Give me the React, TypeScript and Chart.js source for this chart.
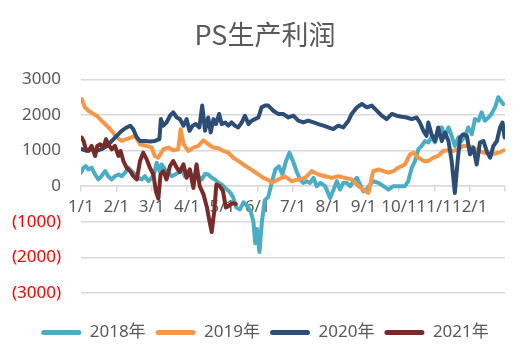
import React, { useEffect, useRef } from "react";
import { Chart, registerables } from "chart.js";

Chart.register(...registerables);

const TITLE = "PS生产利润";
const MONTH_LABELS = ["1/1", "2/1", "3/1", "4/1", "5/1", "6/1", "7/1", "8/1", "9/1", "10/1", "11/1", "12/1"];
const SERIES_NAMES = ["2018年", "2019年", "2020年", "2021年"];
const SERIES_COLORS = ["#4BACC6", "#F79646", "#2C4D75", "#772C2A"];

// x positions in months since 1/1, values in yuan/ton
const x2018 = [0.0, 0.07, 0.14, 0.21, 0.3, 0.4, 0.49, 0.58, 0.68, 0.77, 0.87, 0.96, 1.06, 1.15, 1.25, 1.34, 1.43, 1.53, 1.62, 1.72, 1.81, 1.91, 2.0, 2.08, 2.14, 2.22, 2.28, 2.38, 2.47, 2.57, 2.66, 2.75, 2.85, 2.94, 3.04, 3.13, 3.23, 3.32, 3.42, 3.51, 3.6, 3.7, 3.79, 3.89, 3.98, 4.08, 4.2, 4.3, 4.4, 4.5, 4.6, 4.7, 4.8, 4.88, 4.93, 4.98, 5.05, 5.12, 5.2, 5.3, 5.4, 5.5, 5.6, 5.7, 5.8, 5.9, 6.0, 6.1, 6.2, 6.29, 6.39, 6.48, 6.58, 6.67, 6.77, 6.91, 7.05, 7.15, 7.24, 7.33, 7.42, 7.52, 7.62, 7.71, 7.81, 7.9, 7.99, 8.08, 8.18, 8.27, 8.42, 8.56, 8.7, 8.84, 9.0, 9.17, 9.26, 9.36, 9.45, 9.55, 9.64, 9.74, 9.83, 9.92, 10.02, 10.11, 10.21, 10.3, 10.4, 10.49, 10.58, 10.68, 10.77, 10.87, 10.96, 11.06, 11.15, 11.25, 11.34, 11.43, 11.53, 11.62, 11.72, 11.81, 11.91, 11.95];
const v2018 = [380, 520, 565, 470, 520, 330, 190, 280, 425, 280, 190, 280, 330, 280, 380, 520, 425, 330, 235, 190, 280, 140, 235, 380, 660, 425, 610, 470, 380, 280, 330, 380, 520, 280, 425, 330, 235, 280, 190, 340, 330, 240, 190, 94, 50, -50, -150, -300, -600, -650, -450, -550, -700, -1000, -1600, -1200, -1850, -1000, -400, -300, 100, 470, 560, 330, 700, 940, 700, 420, 190, 94, 140, 94, 236, 0, 94, 0, -330, -94, 140, -94, 94, 94, 0, 140, 236, 47, -140, -94, 47, 140, 94, 0, -94, 0, 0, 0, 140, 520, 700, 1040, 1130, 1270, 1230, 1370, 1230, 1510, 1650, 1370, 1650, 1415, 1130, 1370, 1270, 1415, 1650, 1460, 1890, 1840, 2075, 1840, 1930, 2030, 2220, 2500, 2360, 2310];

const x2019 = [0.02, 0.11, 0.21, 0.35, 0.44, 0.58, 0.73, 0.87, 1.01, 1.15, 1.29, 1.43, 1.53, 1.67, 1.86, 2.0, 2.09, 2.19, 2.33, 2.47, 2.61, 2.75, 2.82, 2.9, 3.04, 3.18, 3.32, 3.46, 3.6, 3.75, 3.89, 4.03, 4.17, 4.31, 4.45, 4.59, 4.74, 4.88, 5.02, 5.16, 5.3, 5.4, 5.58, 5.77, 5.96, 6.15, 6.34, 6.53, 6.72, 6.91, 7.09, 7.28, 7.47, 7.66, 7.85, 7.99, 8.13, 8.27, 8.42, 8.56, 8.7, 8.84, 8.98, 9.17, 9.31, 9.41, 9.55, 9.69, 9.83, 9.97, 10.11, 10.25, 10.4, 10.54, 10.68, 10.82, 10.96, 11.1, 11.25, 11.43, 11.63, 11.81, 11.98];
const v2019 = [2450, 2215, 2120, 2030, 1980, 1840, 1700, 1555, 1370, 1270, 1320, 1370, 1415, 1180, 1130, 1085, 850, 800, 1040, 1085, 1010, 1040, 1600, 1180, 990, 1085, 1130, 1290, 1180, 1085, 1065, 990, 940, 800, 710, 610, 520, 425, 330, 235, 180, 95, 190, 280, 140, 190, 235, 425, 330, 280, 235, 280, 235, 190, 0, -95, -190, 425, 470, 425, 380, 425, 520, 610, 895, 940, 800, 710, 710, 800, 850, 990, 1010, 990, 1040, 1130, 1130, 1085, 990, 940, 895, 940, 1010];

const x2020 = [0.02, 0.16, 0.3, 0.44, 0.58, 0.73, 0.87, 1.01, 1.15, 1.29, 1.39, 1.48, 1.58, 1.67, 1.81, 1.95, 2.09, 2.22, 2.26, 2.33, 2.42, 2.52, 2.61, 2.71, 2.8, 2.9, 2.99, 3.07, 3.16, 3.25, 3.35, 3.43, 3.51, 3.6, 3.67, 3.75, 3.82, 3.91, 3.98, 4.08, 4.17, 4.26, 4.36, 4.45, 4.55, 4.64, 4.74, 4.83, 4.92, 5.02, 5.11, 5.21, 5.3, 5.44, 5.58, 5.72, 5.87, 6.01, 6.15, 6.29, 6.43, 6.58, 6.72, 6.86, 7.0, 7.14, 7.28, 7.42, 7.57, 7.66, 7.81, 7.95, 8.09, 8.23, 8.37, 8.51, 8.65, 8.8, 8.93, 9.08, 9.22, 9.36, 9.5, 9.59, 9.69, 9.78, 9.83, 9.92, 10.02, 10.11, 10.21, 10.3, 10.4, 10.49, 10.58, 10.66, 10.73, 10.82, 10.92, 11.01, 11.1, 11.2, 11.29, 11.39, 11.48, 11.58, 11.67, 11.77, 11.86, 11.93, 11.99];
const v2020 = [1040, 990, 1040, 990, 1040, 1130, 1270, 1415, 1555, 1650, 1700, 1600, 1370, 1270, 1270, 1255, 1270, 1320, 1885, 1700, 1790, 1980, 2075, 1930, 1885, 1700, 1885, 1555, 1700, 1745, 1650, 2265, 1555, 1930, 1510, 1885, 1745, 2030, 1745, 1790, 1700, 1790, 1700, 1650, 1790, 1980, 1745, 1840, 1885, 1930, 2215, 2265, 2265, 2120, 2030, 2030, 1930, 1980, 1840, 1790, 1840, 1790, 1745, 1700, 1650, 1600, 1700, 1650, 1840, 2030, 2215, 2310, 2215, 2265, 2120, 1980, 1885, 2030, 1980, 1950, 1930, 1885, 1930, 1790, 1555, 1415, 1790, 1460, 1270, 1650, 1270, 1510, 1270, 710, -190, 710, 1370, 1460, 1415, 895, 1085, 610, 1225, 1270, 990, 800, 1130, 1270, 1650, 1790, 1370];

const x2021 = [0.02, 0.07, 0.14, 0.21, 0.3, 0.4, 0.46, 0.54, 0.63, 0.71, 0.77, 0.87, 0.96, 1.06, 1.12, 1.2, 1.29, 1.39, 1.48, 1.58, 1.67, 1.76, 1.86, 1.95, 2.05, 2.12, 2.19, 2.25, 2.33, 2.42, 2.52, 2.61, 2.71, 2.8, 2.9, 2.99, 3.08, 3.18, 3.27, 3.36, 3.47, 3.57, 3.64, 3.7, 3.77, 3.83, 3.93, 4.02, 4.1, 4.16, 4.21, 4.3, 4.38];
const v2021 = [1367, 1273, 1037, 990, 1132, 849, 1132, 1179, 1085, 1320, 1179, 1037, 1132, 849, 990, 707, 519, 424, 283, 190, 707, 943, 754, 519, 330, -150, -350, 330, 424, 190, 566, 707, 519, 400, 613, 236, 472, -47, 613, 0, -238, -620, -1000, -1286, -714, 48, 0, -143, -600, -571, -524, -476, -500];

const SERIES_X = [x2018, x2019, x2020, x2021];
const SERIES_V = [v2018, v2019, v2020, v2021];

const Y_MIN = -3000;
const Y_MAX = 3000;
const FONT = "'Noto Sans', 'Noto Sans CJK SC', sans-serif";
const TITLE_FONT = "'Noto Sans CJK SC', sans-serif";
const TEXT = "#595959";
const GRID = "#D9D9D9";

export default function App() {
  const ref = useRef<HTMLCanvasElement | null>(null);

  useEffect(() => {
    document.body.style.margin = "0";
    const canvas = ref.current;
    if (!canvas) return;
    const datasets = SERIES_NAMES.map((name, i) => ({
      label: name,
      data: SERIES_X[i].map((x, j) => ({ x, y: SERIES_V[i][j] })),
      borderColor: SERIES_COLORS[i],
      backgroundColor: SERIES_COLORS[i],
      borderWidth: 4,
      pointRadius: 0,
      tension: 0,
      fill: false,
      borderJoinStyle: "round" as const,
      borderCapStyle: "round" as const,
      order: SERIES_NAMES.length - i,
    }));

    const chart = new Chart(canvas, {
      type: "line",
      data: { datasets },
      options: {
        animation: false,
        responsive: false,
        events: [],
        layout: { padding: { left: 0, right: 0, top: 0, bottom: 10 } },
        scales: {
          x: {
            type: "linear",
            min: 0,
            max: 12,
            position: { y: 0 } as any,
            ticks: {
              stepSize: 1,
              autoSkip: false,
              maxRotation: 0,
              minRotation: 0,
              padding: 6,
              color: TEXT,
              font: { family: FONT, size: 17 },
              callback: (v: any) => {
                const n = Math.round(Number(v));
                return n >= 0 && n < MONTH_LABELS.length ? MONTH_LABELS[n] : "";
              },
            },
            grid: {
              display: true,
              drawOnChartArea: false,
              drawTicks: true,
              tickLength: 5,
              color: GRID,
              lineWidth: 1.5,
            },
            border: { display: true, color: GRID, width: 1.5 },
          },
          y: {
            type: "linear",
            min: Y_MIN,
            max: Y_MAX,
            afterFit: (s: any) => {
              s.width = 81;
            },
            ticks: {
              stepSize: 1000,
              padding: 20,
              color: (c: any) => (c.tick && c.tick.value < 0 ? "#FF0000" : TEXT),
              font: { family: FONT, size: 17 },
              callback: (v: any) => {
                const n = Number(v);
                return n < 0 ? `(${Math.abs(n)})` : `${n}`;
              },
            },
            grid: { color: GRID, lineWidth: 1.5, drawTicks: false },
            border: { display: false },
          },
          yRight: {
            type: "linear",
            position: "right",
            min: Y_MIN,
            max: Y_MAX,
            afterFit: (s: any) => {
              s.width = 25;
            },
            ticks: { display: false },
            grid: { display: false, drawTicks: false },
            border: { display: false },
          },
        },
        plugins: {
          title: {
            display: true,
            text: TITLE,
            color: TEXT,
            font: { family: TITLE_FONT, size: 27, weight: "normal" },
            padding: { top: 19, bottom: 28 },
          },
          legend: {
            display: true,
            position: "bottom",
            title: { display: true, text: "", font: { size: 1, lineHeight: 1 }, padding: { top: 20, bottom: 0 } },
            labels: {
              boxWidth: 40,
              boxHeight: 5,
              padding: 10,
              color: TEXT,
              font: { family: FONT, size: 17 },
              useBorderRadius: true,
              borderRadius: 2.5,
              generateLabels: () =>
                SERIES_NAMES.map((name, i) => ({
                  text: name,
                  fillStyle: SERIES_COLORS[i],
                  strokeStyle: SERIES_COLORS[i],
                  lineWidth: 0,
                  hidden: false,
                  datasetIndex: i,
                  fontColor: TEXT,
                  borderRadius: 2.5,
                })) as any,
            },
          },
          tooltip: { enabled: false },
        },
      },
    });
    return () => chart.destroy();
  }, []);

  return (
    <div style={{ width: 530, height: 361 }}>
      <canvas ref={ref} width={530} height={361} style={{ display: "block", width: 530, height: 361 }} />
    </div>
  );
}
